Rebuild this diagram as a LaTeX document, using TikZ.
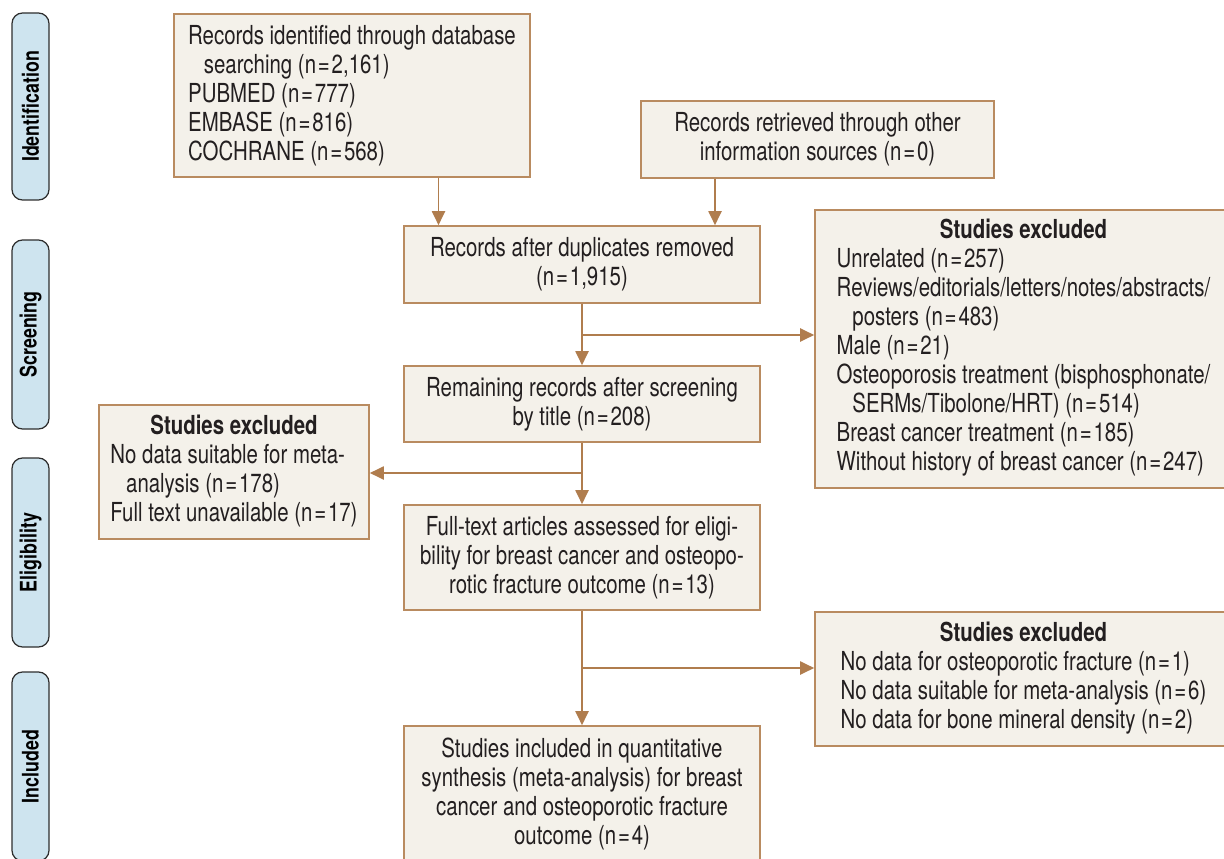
\documentclass[tikz,border=0pt]{standalone}
\usepackage{fontspec}
\setmainfont{TeX Gyre Heros}[FakeStretch=0.78]
\usetikzlibrary{arrows.meta}

\definecolor{boxfill}{HTML}{F4F1EA}
\definecolor{boxline}{HTML}{B98B60}
\definecolor{flowline}{HTML}{B07D4E}
\definecolor{tabfill}{HTML}{CEE4EF}
\definecolor{tabline}{HTML}{2E2E2E}
\definecolor{ink}{HTML}{231F20}
\newcommand{\flowfont}{\fontsize{14.9}{16.5}\selectfont}
\newcommand{\tabfont}{\fontsize{13}{14}\selectfont\bfseries}
\newcommand{\nn}[1]{(n\kern0.07em=\kern0.07em#1)}

\begin{document}
\begin{tikzpicture}[
    stage/.style={draw=tabline, fill=tabfill, line width=0.7pt, rounded corners=6pt,
        minimum width=0.74cm, minimum height=3.78cm, inner sep=0pt},
    stagelabel/.style={rotate=90, font=\tabfont, text=black},
    box/.style={draw=boxline, fill=boxfill, line width=0.9pt, inner sep=0pt,
        text=ink, font=\flowfont},
    excl/.style={box, minimum width=8.34cm},
    arr/.style={draw=flowline, line width=1.1pt, -{Triangle[length=0.28cm,width=0.26cm]}},
    link/.style={draw=flowline, line width=1.1pt}
]
\clip (0,0) rectangle (24.48,-17.18);

% Stages on the left
\node[stage, minimum height=3.74cm] (tid) at (0.61,-2.13) {};
\node[stagelabel] at (tid) {Identification};
\node[stage] (tsc) at (0.61,-6.69) {};
\node[stagelabel] at (tsc) {Screening};
\node[stage] (tel) at (0.61,-11.05) {};
\node[stagelabel] at (tel) {Eligibility};
\node[stage] (tin) at (0.61,-15.33) {};
\node[stagelabel] at (tin) {Included};

% Identification
\node[box, minimum width=7.12cm, minimum height=3.26cm, align=left] (db) at (7.04,-1.91)
    {Records identified through database\\
     \hspace*{0.6em}searching \nn{2,161}\\
     PUBMED \nn{777}\\
     EMBASE \nn{816}\\
     COCHRANE \nn{568}};
\node[box, minimum width=7.06cm, minimum height=1.54cm, align=center] (other) at (16.35,-2.79)
    {Records retrieved through other\\information sources \nn{0}};

% Screening
\node[box, minimum width=7.12cm, minimum height=1.54cm, align=center] (dup) at (11.64,-5.29)
    {Records after duplicates removed\\\nn{1,915}};
\node[box, minimum width=7.12cm, minimum height=1.52cm, align=center] (title) at (11.64,-8.08)
    {Remaining records after screening\\by title \nn{208}};
\node[excl, minimum height=5.56cm] (exone) at (20.47,-6.98)
    {\begin{tabular}{@{}l@{}}
     \multicolumn{1}{@{}c@{}}{\bfseries Studies excluded}\\
     Unrelated \nn{257}\\
     Reviews/editorials/letters/notes/abstracts/\\
     \hspace*{0.6em}posters \nn{483}\\
     Male \nn{21}\\
     Osteoporosis treatment (bisphosphonate/\\
     \hspace*{0.6em}SERMs/Tibolone/HRT) \nn{514}\\
     Breast cancer treatment \nn{185}\\
     Without history of breast cancer \nn{247}
     \end{tabular}};

% Eligibility
\node[box, minimum width=5.4cm, minimum height=2.68cm] (extwo) at (4.68,-9.44)
    {\begin{tabular}{@{}l@{}}
     \multicolumn{1}{@{}c@{}}{\bfseries Studies excluded}\\
     No data suitable for meta-\\
     \hspace*{0.6em}analysis \nn{178}\\
     Full text unavailable \nn{17}
     \end{tabular}};
\node[box, minimum width=7.12cm, minimum height=2.1cm, align=center] (full) at (11.64,-11.15)
    {Full-text articles assessed for eligi-\\
     bility for breast cancer and osteopo-\\
     rotic fracture outcome \nn{13}};
\node[excl, minimum height=2.68cm] (exthree) at (20.47,-13.58)
    {\begin{tabular}{@{}l@{}}
     \multicolumn{1}{@{}c@{}}{\bfseries Studies excluded}\\
     No data for osteoporotic fracture \nn{1}\\
     No data suitable for meta-analysis \nn{6}\\
     No data for bone mineral density \nn{2}
     \end{tabular}};

% Included
\node[box, minimum width=7.12cm, minimum height=2.7cm, align=center] (incl) at (11.64,-15.87)
    {Studies included in quantitative\\
     synthesis (meta-analysis) for breast\\
     cancer and osteoporotic fracture\\
     outcome \nn{4}};

% Arrows
\coordinate (dbx) at (8.77,0);
\coordinate (otx) at (14.30,0);
\draw[arr] (db.south -| dbx) -- (dup.north -| dbx);
\draw[arr] (other.south -| otx) -- (dup.north -| otx);

\coordinate (brone) at (11.64,-6.70);
\coordinate (brtwo) at (11.64,-9.46);
\coordinate (brthree) at (11.64,-13.36);
\draw[arr] (dup) -- (title);
\draw[arr] (brone) -- (brone -| exone.west);
\draw[arr] (title) -- (full);
\draw[arr] (brtwo) -- (brtwo -| extwo.east);
\draw[arr] (full) -- (incl);
\draw[arr] (brthree) -- (brthree -| exthree.west);

\end{tikzpicture}
\end{document}
